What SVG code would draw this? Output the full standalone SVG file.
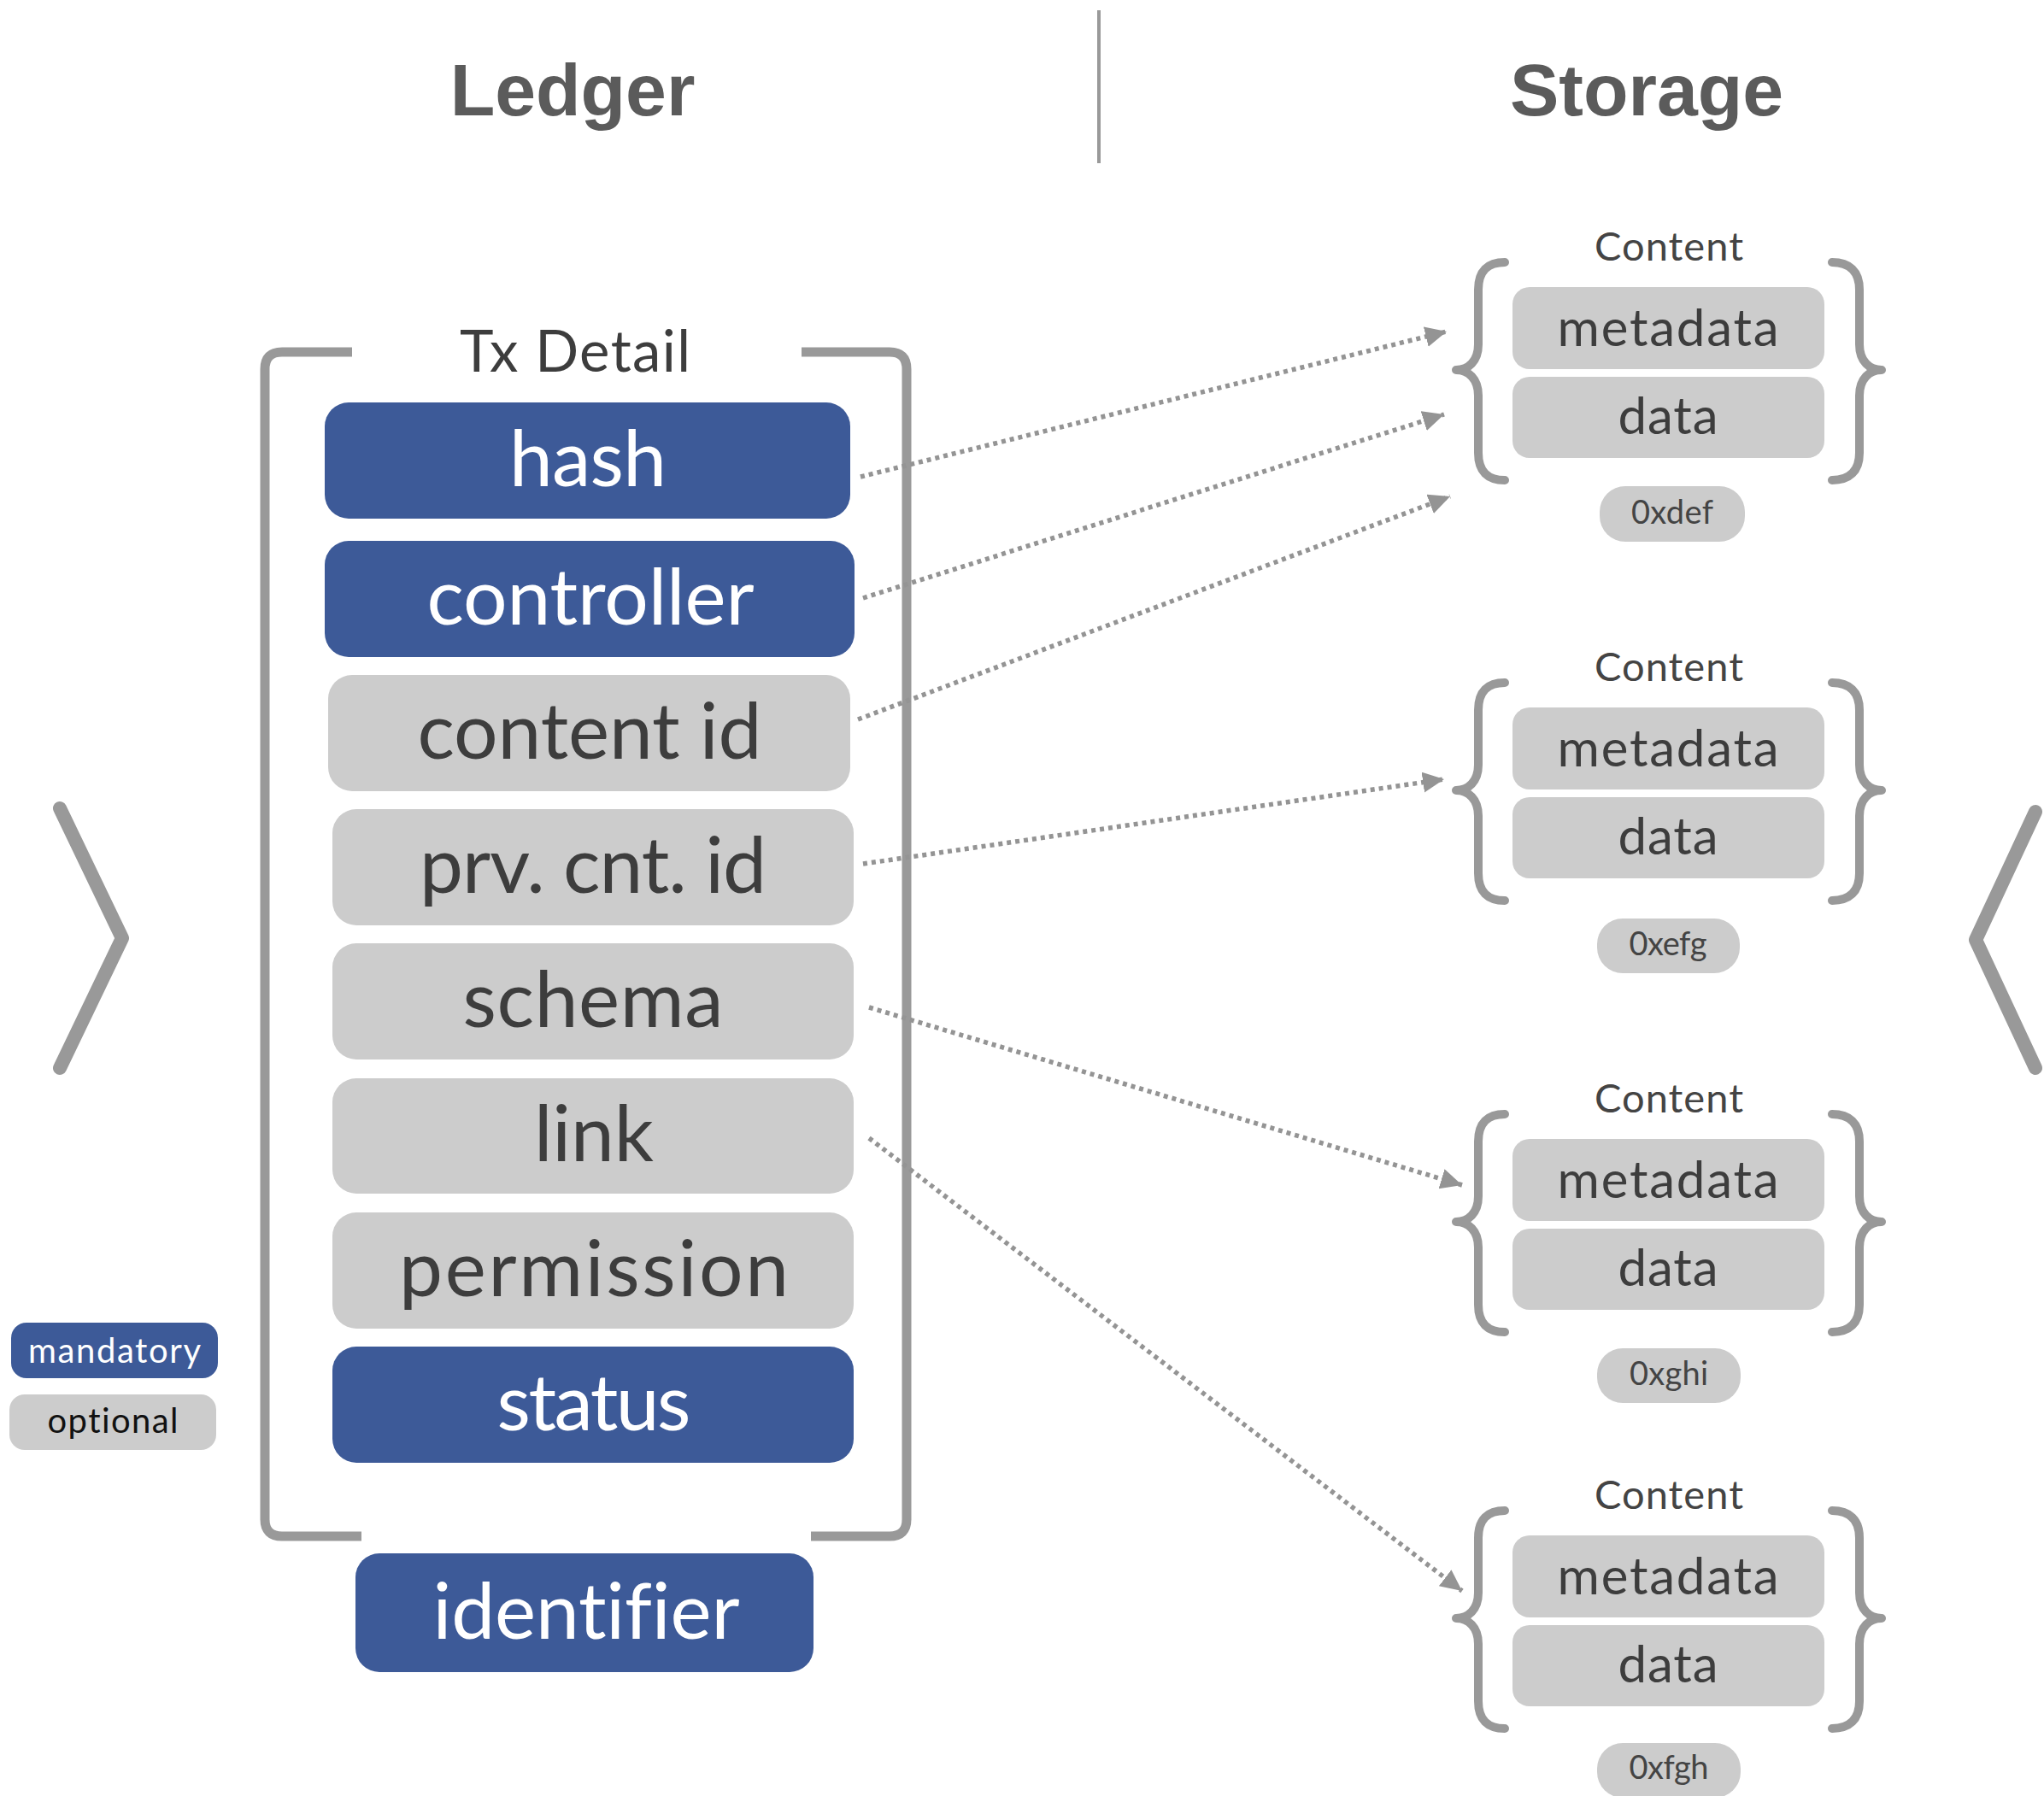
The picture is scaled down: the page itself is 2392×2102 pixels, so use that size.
<svg xmlns="http://www.w3.org/2000/svg" xmlns:xlink="http://www.w3.org/1999/xlink" width="2392" height="2102" viewBox="0 0 2392 2102">
<style>
.title{font-family:"Liberation Sans",Arial,sans-serif;font-weight:bold;font-size:86px;fill:#5b5b5b;text-anchor:middle}
.lbl{font-family:Lato,"Noto Sans",sans-serif;font-weight:400;text-anchor:middle;font-variant-ligatures:none}
.big{font-size:91px}
.w{fill:#ffffff}
.d{fill:#3d3d3d}
.blue{fill:#3d5a98}
.gray{fill:#cccccc}
.line{fill:none;stroke:#999999}
.conn{fill:none;stroke:#949494;stroke-width:5.5;stroke-dasharray:5 5;marker-end:url(#ah)}
.md{font-size:60px;fill:#3d3d3d}
.ct{font-size:47px;fill:#444444}
.px{font-size:38px;fill:#444444}
</style>
<defs>
<marker id="ah" markerUnits="userSpaceOnUse" markerWidth="28" markerHeight="26" refX="25" refY="12" orient="auto">
<path d="M0,0 L25,12 L0,24 z" fill="#949494"/>
</marker>
<path id="braceL" d="M 1761 -29 C 1741 -29 1730 -19 1730 3 L 1730 67 C 1730 87 1718 97 1704 97 C 1718 97 1730 107 1730 127 L 1730 194 C 1730 216 1741 226 1761 226" fill="none" stroke="#999999" stroke-width="10" stroke-linecap="round" stroke-linejoin="round"/>
<path id="braceR" d="M 2144 -29 C 2164 -29 2176 -19 2176 3 L 2176 67 C 2176 87 2188 97 2202 97 C 2188 97 2176 107 2176 127 L 2176 194 C 2176 216 2164 226 2144 226" fill="none" stroke="#999999" stroke-width="10" stroke-linecap="round" stroke-linejoin="round"/>
</defs>
<rect x="0" y="0" width="2392" height="2102" fill="#ffffff"/>

<g id="headers">
<text class="title" x="670" y="135">Ledger</text>
<text class="title" x="1927" y="135">Storage</text>
<line class="line" x1="1286" y1="12" x2="1286" y2="191" stroke-width="4"/>
</g>

<g id="chevrons">
<path class="line" d="M 70 946 L 143 1098 L 70 1250" stroke-width="16" stroke-linecap="round" stroke-linejoin="round"/>
<path class="line" d="M 2382 950 L 2312 1100 L 2382 1250" stroke-width="16" stroke-linecap="round" stroke-linejoin="round"/>
</g>

<g id="txdetail">
<path class="line" stroke-width="11" d="M 412 412 L 330 412 Q 310 412 310 432 L 310 1778 Q 310 1798 330 1798 L 423 1798"/>
<path class="line" stroke-width="11" d="M 938 412 L 1041 412 Q 1061 412 1061 432 L 1061 1778 Q 1061 1798 1041 1798 L 949 1798"/>
<text class="lbl d" x="673" y="435" font-size="67" textLength="270">Tx Detail</text>
</g>

<g id="hash"><rect class="blue" x="380" y="471" width="615" height="136" rx="28"/><text class="lbl big w" x="688" y="569" textLength="184">hash</text></g>
<g id="controller"><rect class="blue" x="380" y="633" width="620" height="136" rx="28"/><text class="lbl big w" x="691" y="731" textLength="383">controller</text></g>
<g id="content-id"><rect class="gray" x="384" y="790" width="611" height="136" rx="28"/><text class="lbl big d" x="690" y="888" textLength="403">content id</text></g>
<g id="prv-cnt-id"><rect class="gray" x="389" y="947" width="610" height="136" rx="28"/><text class="lbl big d" x="694" y="1045" textLength="406">prv. cnt. id</text></g>
<g id="schema"><rect class="gray" x="389" y="1104" width="610" height="136" rx="28"/><text class="lbl big d" x="694" y="1202" textLength="305">schema</text></g>
<g id="link"><rect class="gray" x="389" y="1262" width="610" height="135" rx="28"/><text class="lbl big d" x="695" y="1359" textLength="140">link</text></g>
<g id="permission"><rect class="gray" x="389" y="1419" width="610" height="136" rx="28"/><text class="lbl big d" x="695" y="1517" textLength="456">permission</text></g>
<g id="status"><rect class="blue" x="389" y="1576" width="610" height="136" rx="28"/><text class="lbl big w" x="695" y="1674" textLength="227">status</text></g>
<g id="identifier"><rect class="blue" x="416" y="1818" width="536" height="139" rx="28"/><text class="lbl big w" x="686" y="1918" textLength="359">identifier</text></g>

<g id="legend">
<rect class="blue" x="13" y="1548" width="242" height="65" rx="18"/>
<text class="lbl w" x="134" y="1595" font-size="40" textLength="202">mandatory</text>
<rect class="gray" x="11" y="1632" width="242" height="65" rx="18"/>
<text class="lbl" x="132" y="1677" font-size="40" fill="#111111" textLength="153">optional</text>
</g>

<g id="content1" transform="translate(0,336)">
<text class="lbl ct" x="1953" y="-31" textLength="174">Content</text>
<use xlink:href="#braceL"/><use xlink:href="#braceR"/>
<rect class="gray" x="1770" y="0" width="365" height="96" rx="20"/>
<text class="lbl md" x="1952" y="69" textLength="259">metadata</text>
<rect class="gray" x="1770" y="105" width="365" height="95" rx="20"/>
<text class="lbl md" x="1952" y="172" textLength="117">data</text>
<rect class="gray" x="1872" y="233" width="170" height="65" rx="30"/>
<text class="lbl px" x="1957" y="277" textLength="96">0xdef</text>
</g>

<g id="content2" transform="translate(0,828)">
<text class="lbl ct" x="1953" y="-31" textLength="174">Content</text>
<use xlink:href="#braceL"/><use xlink:href="#braceR"/>
<rect class="gray" x="1770" y="0" width="365" height="96" rx="20"/>
<text class="lbl md" x="1952" y="69" textLength="259">metadata</text>
<rect class="gray" x="1770" y="105" width="365" height="95" rx="20"/>
<text class="lbl md" x="1952" y="172" textLength="117">data</text>
<rect class="gray" x="1869" y="247" width="167" height="64" rx="30"/>
<text class="lbl px" x="1952" y="290" textLength="91">0xefg</text>
</g>

<g id="content3" transform="translate(0,1333)">
<text class="lbl ct" x="1953" y="-31" textLength="174">Content</text>
<use xlink:href="#braceL"/><use xlink:href="#braceR"/>
<rect class="gray" x="1770" y="0" width="365" height="96" rx="20"/>
<text class="lbl md" x="1952" y="69" textLength="259">metadata</text>
<rect class="gray" x="1770" y="105" width="365" height="95" rx="20"/>
<text class="lbl md" x="1952" y="172" textLength="117">data</text>
<rect class="gray" x="1869" y="245" width="168" height="64" rx="30"/>
<text class="lbl px" x="1953" y="288" textLength="92">0xghi</text>
</g>

<g id="content4" transform="translate(0,1797)">
<text class="lbl ct" x="1953" y="-31" textLength="174">Content</text>
<use xlink:href="#braceL"/><use xlink:href="#braceR"/>
<rect class="gray" x="1770" y="0" width="365" height="96" rx="20"/>
<text class="lbl md" x="1952" y="69" textLength="259">metadata</text>
<rect class="gray" x="1770" y="105" width="365" height="95" rx="20"/>
<text class="lbl md" x="1952" y="172" textLength="117">data</text>
<rect class="gray" x="1869" y="243" width="168" height="64" rx="30"/>
<text class="lbl px" x="1953" y="285" textLength="93">0xfgh</text>
</g>

<g id="connectors">
<line class="conn" x1="1007" y1="558" x2="1693" y2="388"/>
<line class="conn" x1="1010" y1="700" x2="1690" y2="485"/>
<line class="conn" x1="1004" y1="842" x2="1697" y2="581"/>
<line class="conn" x1="1010" y1="1011" x2="1690" y2="912"/>
<line class="conn" x1="1017" y1="1179" x2="1711" y2="1387"/>
<line class="conn" x1="1017" y1="1332" x2="1711" y2="1862"/>
</g>
</svg>
